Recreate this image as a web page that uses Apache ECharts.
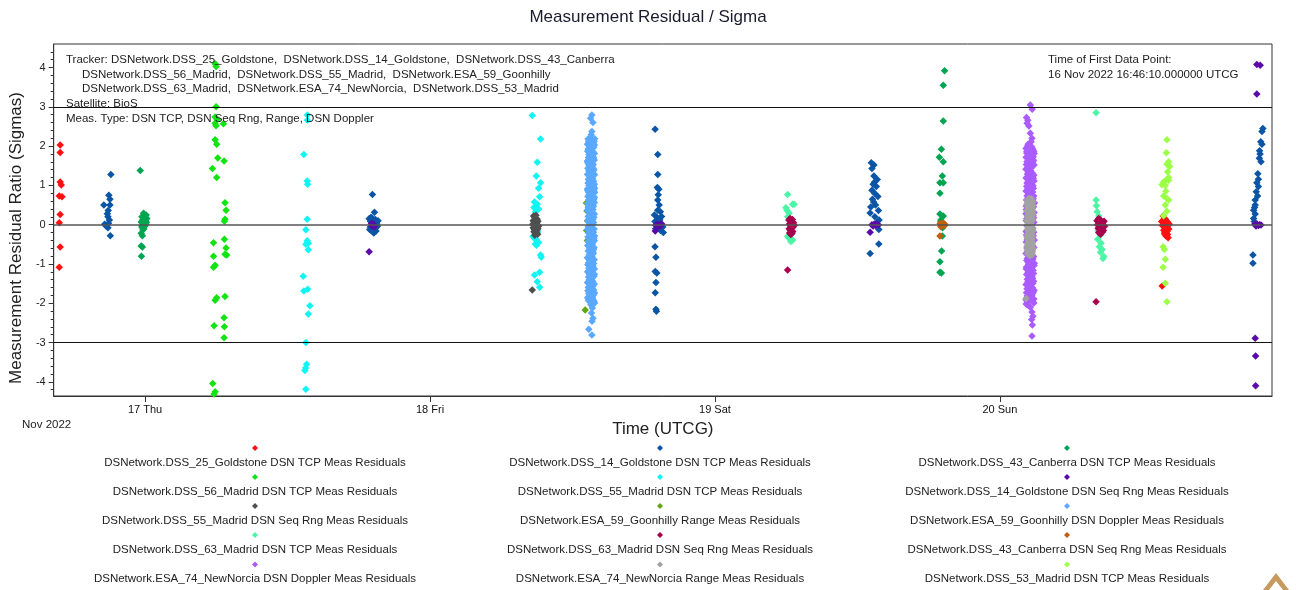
<!DOCTYPE html>
<html>
<head>
<meta charset="utf-8">
<title>Measurement Residual / Sigma</title>
<script src="https://cdn.jsdelivr.net/npm/echarts@6/dist/echarts.min.js"></script>
<style>
  html, body { margin: 0; padding: 0; background: #ffffff; }
  #chart { width: 1296px; height: 590px; }
</style>
</head>
<body>
<div id="chart"></div>
<script>
// Time of first data point; every row below is [hours since this epoch, residual/sigma, ...]
const T0 = Date.UTC(2022, 10, 16, 16, 46, 10);
const HOUR = 3600 * 1000;

const xMin = Date.UTC(2022, 10, 16, 16, 18, 0);
const xMax = Date.UTC(2022, 10, 20, 22, 55, 0);
const dayTicks = [Date.UTC(2022, 10, 17), Date.UTC(2022, 10, 18), Date.UTC(2022, 10, 19), Date.UTC(2022, 10, 20)];
const dayLabels = ['17 Thu', '18 Fri', '19 Sat', '20 Sun'];
const yMajorTicks = [-4, -3, -2, -1, 0, 1, 2, 3, 4];
const yMinorTicks = [-4.2, -3.8, -3.6, -3.4, -3.2, -2.8, -2.6, -2.4, -2.2, -1.8, -1.6, -1.4, -1.2,
  -0.8, -0.6, -0.4, -0.2, 0.2, 0.4, 0.6, 0.8, 1.2, 1.4, 1.6, 1.8, 2.2, 2.4, 2.6, 2.8,
  3.2, 3.4, 3.6, 3.8, 4.2, 4.4];
const sigmaLimits = [3, 0, -3];

const dss25Tcp = [
  [0.00, -1.08], [0.00, 0.05], [0.00, 0.73], [0.08, 2.03], [0.08, 1.84], [0.08, 1.09], [0.08, 0.26],
  [0.08, -0.57], [0.17, 1.01], [0.23, 0.71],
  [92.90, -1.56], [92.98, 0.22], [92.85, 0.08], [92.92, -0.02], [92.97, 0.11], [93.03, -0.14], [93.06, 0.03],
  [93.10, -0.21], [93.14, -0.08], [93.18, 0.14], [93.22, -0.29], [93.27, -0.05], [93.31, -0.17], [93.36, 0.06],
  [93.40, -0.33], [93.45, -0.11], [93.50, 0.01], [93.12, -0.24], [93.25, 0.09], [93.35, -0.25]
];
const dss14Tcp = [
  [4.35, 1.28], [4.18, 0.75], [4.27, 0.65], [3.76, 0.50], [4.27, 0.50], [4.12, 0.36], [4.10, 0.20], [4.22, 0.12],
  [3.82, 0.01], [3.95, -0.03], [4.10, -0.08], [4.30, -0.28], [4.05, 0.28], [4.15, 0.04],
  [26.38, 0.77], [26.55, 0.32], [26.10, 0.15], [26.22, 0.08], [26.30, -0.02], [26.42, 0.11], [26.48, -0.09],
  [26.60, 0.05], [26.68, -0.16], [26.75, 0.02], [26.20, -0.06], [26.35, 0.17], [26.50, -0.21], [26.62, 0.13],
  [26.80, -0.04], [26.15, -0.12], [26.45, 0.03], [26.70, 0.07], [26.28, -0.14], [26.58, -0.01], [26.85, 0.10],
  [26.40, -0.18], [26.25, 0.19], [26.65, -0.08],
  [50.19, 2.43], [50.41, 1.79], [50.41, 1.28], [50.38, 0.95], [50.50, 0.90], [50.45, 0.76], [50.41, 0.63],
  [50.53, 0.50], [50.41, 0.37], [50.63, 0.33], [50.13, 0.25], [50.73, 0.21], [50.41, 0.17], [50.58, 0.12],
  [50.18, 0.08], [50.33, 0.04], [50.68, 0.02], [50.48, -0.03], [50.83, -0.06], [50.23, -0.10], [50.63, -0.14],
  [50.88, -0.20], [50.18, -0.56], [50.26, -0.83], [50.20, -1.19], [50.33, -1.23], [50.26, -1.47], [50.20, -1.73],
  [50.26, -2.15], [50.30, -2.20],
  [68.40, 1.58], [68.62, 1.52], [68.45, 1.43], [68.62, 1.24], [68.68, 1.09], [68.55, 1.03], [68.82, 0.97],
  [68.68, 0.80], [68.95, 0.72], [68.50, 0.65], [68.75, 0.50], [68.35, 0.45], [69.00, 0.36], [68.30, 0.30],
  [68.70, 0.20], [69.05, 0.12], [68.85, 0.05], [68.55, -0.02], [69.03, -0.12], [69.03, -0.49], [68.30, -0.73],
  [68.45, 0.88], [68.90, 1.15], [68.60, 0.58],
  [101.38, 2.45], [101.30, 2.37], [101.20, 2.11], [101.30, 2.05], [101.14, 1.80], [101.08, 1.69], [101.22, 1.60],
  [101.00, 1.16], [100.87, 1.07], [101.00, 0.97], [100.82, 0.84], [100.93, 0.73], [100.73, 0.63], [100.73, 0.50],
  [100.60, 0.37], [100.73, 0.27], [100.60, 0.16], [100.65, 0.08], [100.54, -0.77], [100.54, -0.98], [101.10, 1.88],
  [100.95, 1.30], [100.68, 0.44]
];
const dss43Tcp = [
  [6.82, 1.38], [7.10, 0.29], [7.32, 0.25], [6.96, 0.20], [7.38, 0.16], [7.05, 0.13], [7.25, 0.10], [6.90, 0.07],
  [7.15, 0.04], [7.30, 0.01], [7.00, -0.02], [7.20, -0.04], [6.95, -0.06], [7.12, -0.10], [7.05, -0.13],
  [7.00, -0.28], [6.90, -0.22], [6.90, -0.54], [7.00, -0.57], [6.92, -0.80], [7.35, 0.06], [7.22, 0.18],
  [74.57, 3.92], [74.46, 3.55], [74.46, 2.64], [74.30, 1.92], [74.13, 1.72], [74.46, 1.60], [74.38, 1.24],
  [74.18, 1.07], [74.46, 1.07], [74.18, 0.80], [74.18, 0.27], [74.46, 0.22], [74.25, 0.08], [74.50, -0.04],
  [74.38, -0.29], [74.32, -0.67], [74.18, -0.94], [74.18, -1.21], [74.30, -1.23], [74.25, 0.12], [74.40, -0.08]
];
const dss56Tcp = [
  [13.13, 4.10], [13.21, 4.03], [13.21, 3.00], [13.13, 2.74], [13.30, 2.68], [13.13, 2.58], [13.83, 2.57],
  [13.21, 2.52], [13.13, 2.16], [13.26, 2.05], [13.35, 1.70], [12.90, 1.43], [13.88, 1.62], [13.26, 1.20],
  [13.96, 0.56], [14.05, 0.37], [13.96, 0.14], [13.91, 0.09], [13.91, -0.37], [12.99, -0.46], [14.05, -0.59],
  [13.96, -0.75], [14.10, -0.77], [12.99, -0.80], [13.13, -1.03], [12.99, -1.08], [13.96, -1.83], [13.26, -1.86],
  [13.13, -1.92], [13.04, -2.57], [13.88, -2.37], [13.91, -2.60], [13.88, -2.88], [12.93, -4.04], [13.13, -4.25],
  [13.04, -4.31]
];
const dss55Tcp = [
  [20.90, 2.79], [20.90, 2.66], [20.60, 1.79], [20.89, 1.11], [20.92, 1.03], [20.89, 0.14], [20.77, -0.13],
  [20.89, -0.41], [20.98, -0.47], [20.77, -0.50], [20.98, -0.64], [20.55, -1.31], [20.60, -1.69], [20.92, -1.64],
  [21.11, -2.06], [20.98, -2.27], [20.77, -3.00], [20.83, -3.55], [20.75, -3.65], [20.69, -3.71], [20.77, -4.19],
  [39.84, 2.78], [40.54, 2.18], [40.26, 1.59], [40.18, 1.24], [40.54, 1.07], [40.37, 0.93], [40.46, 0.71],
  [40.03, 0.58], [40.26, 0.52], [39.98, 0.44], [40.37, 0.40], [40.12, 0.33], [40.20, 0.15], [40.30, -0.18],
  [39.90, -0.30], [40.03, -0.35], [40.18, -0.38], [40.26, -0.42], [40.37, -0.45], [40.10, -0.49], [40.20, -0.52],
  [40.54, -0.77], [40.60, -0.83], [40.03, -1.28], [40.46, -1.21], [40.26, -1.45], [40.46, -1.59]
];
const dss14SeqRng = [
  [26.10, -0.69], [26.35, -0.03], [26.45, 0.02], [26.55, -0.05], [26.30, 0.03],
  [50.20, -0.16], [50.25, -0.02], [50.35, 0.01], [50.45, -0.04], [50.55, 0.00], [50.65, -0.03], [50.75, 0.02],
  [68.30, -0.19], [68.45, 0.00], [68.55, -0.03], [68.65, 0.02], [68.78, -0.02], [68.90, 0.01], [69.00, -0.01],
  [100.87, 4.08], [101.15, 4.06], [100.87, 3.33], [100.70, 0.02], [100.80, -0.03], [100.90, 0.01], [101.00, -0.02],
  [101.10, 0.00], [101.22, -0.01], [100.73, -2.89], [100.77, -3.34], [100.77, -4.10]
];
const dss55SeqRng = [
  [39.95, 0.22], [40.05, 0.18], [40.15, 0.24], [40.25, 0.14], [39.92, 0.10], [40.02, 0.07], [40.12, 0.11],
  [40.22, 0.05], [40.32, 0.09], [39.88, 0.01], [39.98, -0.02], [40.08, 0.02], [40.18, -0.04], [40.28, 0.00],
  [40.38, -0.03], [39.92, -0.08], [40.02, -0.12], [40.12, -0.07], [40.22, -0.14], [40.32, -0.10], [39.98, -0.18],
  [40.10, -0.22], [40.20, -0.19], [40.30, -0.24], [40.05, -0.27], [40.15, 0.16], [39.84, -1.66]
];
const esa59Range = [
  [44.30, -2.17], [44.45, 0.35], [44.50, 0.10], [44.42, -0.15], [44.48, -0.40], [44.40, 0.55]
];
const esa59Doppler = [
  [44.48, 1.62, -0.84, 0.37], [44.49, 2.05, -1.47, 0.91], [44.50, -0.12, 1.28, -1.86], [44.51, 0.54, -0.53, 1.87],
  [44.52, -1.02, 0.08, 1.44], [44.53, -1.68, 0.72, -0.31], [44.54, 2.18, -1.21, 1.06], [44.55, -0.67, 1.93, 0.21],
  [44.56, -1.59, 1.15, -0.05], [44.57, 0.83, -1.93, 1.71], [44.58, -0.42, 0.46, -1.33], [44.59, 2.11, -0.97, 0.63],
  [44.60, 1.37, -1.76, 0.14], [44.61, -0.22, 1.52, -1.11], [44.62, 0.99, 1.79], [44.63, 0.29, -1.41, 1.67],
  [44.64, -0.76, 2.14, 0.58], [44.65, -1.89, 1.01, -0.18], [44.66, 1.23, -1.27, 0.77], [44.67, -0.59, 1.96, -1.64],
  [44.68, 0.42, -0.91, 1.48], [44.69, 0.02, -1.07, 0.87], [44.70, -0.36, 1.83], [44.71, -1.53, 0.67, 1.41],
  [44.72, -0.27, 2.01, -1.16], [44.73, 0.33, -0.71, 1.12], [44.74, -1.81, 0.96, 0.11], [44.75, -0.47, 1.59, -1.38],
  [44.76, 1.74, -0.02, 0.49], [44.77, -1.97, 1.31, -0.88], [44.78, 2.21, 0.79], [44.79, 1.08, -0.63, 0.24],
  [44.80, -1.49, 1.91, -0.15], [44.81, 0.71, -1.23, 1.55], [44.82, -0.96, 0.41, -1.71], [44.83, 2.09, 0.05, -0.38],
  [44.84, 1.35, -1.09, 0.88], [44.85, -1.92, 1.69, -0.56], [44.86, 0.17, 1.19], [44.87, -0.81, 1.47, 0.61],
  [44.88, -1.36, 1.99, -0.09], [44.89, 0.94, -1.62, 0.31], [44.90, 1.76, -0.49, -1.18], [44.91, 1.17, 0.52, -1.84],
  [44.92, 2.16, -0.24, 0.84], [44.93, -0.69, 1.63, -1.44], [44.94, 0.13, 1.33], [44.95, 0.39, -1.05, 1.86],
  [44.96, -0.33, 0.74, -1.56], [44.97, 1.25, -0.74, 2.07], [44.98, 0.01, -1.29, 1.53], [44.99, -0.61, 0.97, -1.79],
  [45.00, 0.47, 1.71, -0.19], [45.01, -0.99, 1.11, -1.66], [45.02, 0.64, 1.97], [45.03, -1.31, 0.19, 1.39],
  [45.04, -0.58, 0.86, -1.94], [45.05, 1.64, -0.11, 2.12], [45.06, -0.89, 0.56, -1.51], [45.07, 1.03, 0.27, -0.41],
  [45.08, 1.81, -1.13, 0.69], [45.09, -1.74, 1.27, -0.29], [45.10, 2.19, 0.93],
  [44.515, 0.87, -1.19, 1.58], [44.595, -0.44, 0.36, -1.69], [44.675, 1.94, -0.07, 0.62], [44.755, -1.42, 1.16, -0.79],
  [44.835, 0.23, 1.77, -1.03], [44.915, -0.16, 0.95, -1.88], [44.995, 1.43, 0.06, -0.64], [45.075, 2.03, -1.26],
  [44.555, -0.52, 1.29, 0.44], [44.635, -1.62, 0.76, 1.89], [44.715, -0.94, 0.17, -1.35], [44.795, 1.51, -0.26, 0.99],
  [44.875, -1.77, 2.15, 0.31], [44.955, -0.71, 1.07, -1.14], [45.035, 0.58, 1.66, -0.35], [45.095, -1.99, 0.82],
  [44.86, 2.79], [44.75, 2.71], [44.95, 2.60], [44.86, 2.37], [44.80, 2.29], [44.78, -2.04], [44.90, -2.12],
  [44.83, -2.25], [44.95, -2.38], [44.87, -2.46], [44.60, -2.66], [44.86, -2.81]
];
const dss63Tcp = [
  [61.35, 0.77], [61.20, 0.43], [61.77, 0.52], [61.90, 0.52], [61.48, 0.29], [61.35, 0.20], [61.35, -0.30],
  [61.77, -0.39], [61.48, -0.35], [61.62, -0.43], [61.30, 0.36], [61.55, 0.10], [61.70, -0.22],
  [87.33, 2.85], [87.33, 0.63], [87.36, 0.48], [87.42, 0.33], [87.56, 0.22], [87.70, -0.26], [87.47, -0.37],
  [87.75, -0.47], [87.61, -0.56], [87.84, -0.63], [87.70, -0.70], [87.98, -0.81], [87.92, -0.86], [87.50, -0.15],
  [87.65, 0.08]
];
const dss63SeqRng = [
  [61.45, 0.12], [61.55, 0.16], [61.65, 0.08], [61.75, 0.13], [61.85, 0.05], [61.50, 0.02], [61.60, -0.03],
  [61.70, 0.01], [61.80, -0.06], [61.90, -0.02], [61.48, -0.10], [61.58, -0.14], [61.68, -0.09], [61.78, -0.17],
  [61.52, -0.21], [61.62, -0.25], [61.72, -0.22], [61.35, -1.15],
  [87.40, 0.10], [87.55, 0.16], [87.70, 0.12], [87.85, 0.06], [88.00, 0.09], [87.45, 0.00], [87.60, 0.03],
  [87.75, -0.02], [87.90, 0.01], [88.05, -0.04], [87.50, -0.09], [87.65, -0.12], [87.80, -0.07], [87.95, -0.15],
  [87.55, -0.20], [87.70, -0.24], [87.85, -0.19], [87.33, -1.96]
];
const dss43SeqRng = [
  [74.20, 0.03], [74.30, -0.02], [74.40, 0.01], [74.50, -0.03], [74.60, 0.00], [74.25, -0.05], [74.45, 0.04],
  [74.55, 0.02], [74.18, -0.29]
];
const esa74Doppler = [
  [81.42, 1.41, -0.73, 0.28], [81.43, 1.94, -1.52, 0.86], [81.44, -0.17, 1.19, -1.91], [81.45, 0.47, -0.44, 1.72],
  [81.46, -1.08, 0.11, 1.53], [81.47, -1.73, 0.63, -0.26], [81.48, -1.27, 0.98], [81.49, 1.86, -0.91],
  [81.50, -0.59, 1.82, 0.16], [81.51, -1.63, 1.06, -0.03], [81.52, 0.74, -1.97, 1.61], [81.53, -0.38, 0.53, -1.39],
  [81.54, 1.99, -0.86, 0.34], [81.55, 1.29, -1.81, 0.07], [81.56, -0.21, 1.46], [81.57, -1.14, 0.91],
  [81.58, 0.22, -1.46, 1.58], [81.59, -0.68, 1.97, 0.51], [81.60, -1.86, 0.94, -0.13], [81.61, 1.14, -1.22, 0.69],
  [81.62, -0.52, 1.89, -1.69], [81.63, 0.38, -0.97, 1.37], [81.64, -0.04, -1.01], [81.65, 0.81, -0.33],
  [81.66, -1.58, 0.59, 1.33], [81.67, -0.24, 1.91, -1.19], [81.68, 0.26, -0.78, 1.04], [81.69, -1.77, 0.89, 0.13],
  [81.70, -0.49, 1.49, -1.42], [81.71, 1.67, 0.01, 0.44], [81.72, -1.93, 1.24], [81.73, -0.83, 1.78],
  [81.74, 1.01, -0.66, 0.19], [81.75, -1.54, 1.79, -0.11], [81.76, 0.64, -1.26, 1.44], [81.77, -1.03, 0.36, -1.76],
  [81.78, 1.96, 0.04, -0.36], [81.79, 1.27, -1.12, 0.79], [81.80, -1.88, 1.63], [81.81, -0.57, 0.17],
  [81.82, -0.77, 1.38, 0.57], [81.83, -1.33, 1.93, -0.07], [81.84, 0.87, -1.66, 0.29], [81.85, 1.69, -0.46, -1.17],
  [81.86, 1.09, 0.48, -1.84], [81.87, 1.84, -0.27, 0.77], [81.88, -0.62, 1.56], [81.89, -1.47, 0.09],
  [81.90, 0.33, -1.06, 1.76], [81.91, -0.31, 0.71, -1.59], [81.92, 1.21, -0.71, 1.98], [81.93, 0.02, -1.31, 1.47],
  [81.94, -0.64, 0.92, -1.78], [81.95, 0.42, 1.66, -0.16], [81.96, -0.94, 1.08], [81.97, -1.61, 0.61],
  [81.98, -1.36, 0.14, 1.31], [81.99, -0.54, 0.83, -1.96], [82.00, 1.57, -0.09, 1.92], [82.01, -0.87, 0.52, -1.49],
  [82.02, 0.99, 0.24, -0.41], [82.03, 1.73, -1.16, 0.66], [82.04, -1.71, 1.18], [82.05, -0.28, 0.93],
  [82.06, 0.46, -1.24, 1.64], [82.07, -0.81, 0.18, -1.44], [82.08, 1.87, -0.19, 0.73], [82.09, -1.89, 1.26, -0.58],
  [82.10, 0.06, 1.52, -1.04], [82.11, 0.31, -1.67, 1.11], [82.12, -0.39, 1.81], [82.13, -0.98, 0.56],
  [81.455, -1.13, 0.39, 1.71], [81.545, -0.47, 1.22, -1.83], [81.635, 0.68, -0.22, 1.95], [81.725, -1.38, 0.97, -0.69],
  [81.815, 1.45, 0.12, -1.57], [81.905, 1.85, -0.93, 0.27], [81.995, -1.74, 1.61], [82.085, 0.54, -1.99],
  [81.79, 3.05], [81.95, 2.94], [81.47, 2.73], [81.58, 2.66], [81.52, 2.58], [81.67, 2.51], [81.79, 2.33],
  [81.93, 2.20], [81.86, 2.11], [81.60, 2.05], [81.53, -2.04], [81.79, -2.10], [81.93, -2.22], [82.01, -2.33],
  [81.90, -2.41], [81.96, -2.55], [81.93, -2.83], [81.45, -2.02]
];
const esa74Range = [
  [81.50, 0.52, -0.31, 0.08], [81.53, -0.66, 0.37, -0.12], [81.55, 0.63, -0.47, 0.21], [81.57, -0.74, 0.14, -0.24],
  [81.60, 0.44, -0.58, 0.02], [81.62, 0.29, -0.39, 0.57], [81.64, -0.07, -0.71, 0.33], [81.67, 0.67, -0.18, -0.53],
  [81.69, 0.11, 0.48, -0.43], [81.71, -0.77, 0.25, -0.03], [81.74, 0.59, -0.62, 0.17], [81.76, -0.27, 0.41, -0.79],
  [81.78, 0.05, -0.49, 0.65], [81.81, -0.14, 0.35, -0.68], [81.83, 0.54, -0.35, 0.19], [81.85, -0.56, 0.01, 0.46],
  [81.88, -0.21, 0.61, -0.73], [81.90, 0.27, -0.44, 0.09], [81.92, -0.64, 0.39, -0.09], [81.95, 0.56, -0.28, -0.51],
  [81.97, 0.13, -0.76, 0.31], [82.00, 0.49, -0.16, -0.60],
  [81.51, 0.34, -0.55, -0.02], [81.56, 0.12, 0.58, -0.36], [81.585, -0.61, 0.23, 0.47], [81.63, -0.26, 0.62, -0.48],
  [81.655, 0.39, -0.09, -0.75], [81.70, 0.55, -0.33, 0.03], [81.725, -0.52, 0.19, 0.64], [81.75, -0.12, -0.69, 0.28],
  [81.795, 0.44, -0.41, 0.15], [81.82, -0.78, 0.61, -0.19], [81.84, 0.24, -0.63, 0.38], [81.865, -0.29, 0.52, -0.45],
  [81.89, 0.66, -0.05, -0.57], [81.935, -0.37, 0.18, 0.43], [81.96, 0.35, -0.67, -0.11], [81.985, -0.46, 0.26, 0.59],
  [81.43, -1.88]
];
const dss53Tcp = [
  [93.30, 2.16], [93.25, 1.83], [93.44, 1.60], [93.30, 1.54], [93.53, 1.48], [93.44, 1.20], [93.30, 1.16],
  [93.02, 1.09], [92.88, 1.02], [93.16, 1.00], [93.44, 1.13], [93.02, 0.73], [93.30, 0.67], [93.44, 0.63],
  [93.16, 0.50], [93.30, 0.34], [93.02, 0.23], [92.97, -0.56], [93.08, -0.63], [93.16, -0.88], [92.97, -1.08],
  [93.16, -1.49], [93.30, -1.96], [93.20, 0.85], [93.35, 1.35]
];

const seriesNames = [
  'DSNetwork.DSS_25_Goldstone DSN TCP Meas Residuals',
  'DSNetwork.DSS_14_Goldstone DSN TCP Meas Residuals',
  'DSNetwork.DSS_43_Canberra DSN TCP Meas Residuals',
  'DSNetwork.DSS_56_Madrid DSN TCP Meas Residuals',
  'DSNetwork.DSS_55_Madrid DSN TCP Meas Residuals',
  'DSNetwork.DSS_14_Goldstone DSN Seq Rng Meas Residuals',
  'DSNetwork.DSS_55_Madrid DSN Seq Rng Meas Residuals',
  'DSNetwork.ESA_59_Goonhilly Range Meas Residuals',
  'DSNetwork.ESA_59_Goonhilly DSN Doppler Meas Residuals',
  'DSNetwork.DSS_63_Madrid DSN TCP Meas Residuals',
  'DSNetwork.DSS_63_Madrid DSN Seq Rng Meas Residuals',
  'DSNetwork.DSS_43_Canberra DSN Seq Rng Meas Residuals',
  'DSNetwork.ESA_74_NewNorcia DSN Doppler Meas Residuals',
  'DSNetwork.ESA_74_NewNorcia Range Meas Residuals',
  'DSNetwork.DSS_53_Madrid DSN TCP Meas Residuals'
];
const seriesColors = [
  '#ff1010', '#0a55a5', '#00a552', '#12e412', '#10f4f4',
  '#5a0aa8', '#4f4f4f', '#62a614', '#5aa8ff', '#4cf5a6',
  '#a8004e', '#c0600e', '#aa5cff', '#a2a2a2', '#9cff48'
];
const seriesRows = [
  dss25Tcp, dss14Tcp, dss43Tcp, dss56Tcp, dss55Tcp,
  dss14SeqRng, dss55SeqRng, esa59Range, esa59Doppler, dss63Tcp,
  dss63SeqRng, dss43SeqRng, esa74Doppler, esa74Range, dss53Tcp
];

const trackerLines = [
  'Tracker: DSNetwork.DSS_25_Goldstone,  DSNetwork.DSS_14_Goldstone,  DSNetwork.DSS_43_Canberra',
  'DSNetwork.DSS_56_Madrid,  DSNetwork.DSS_55_Madrid,  DSNetwork.ESA_59_Goonhilly',
  'DSNetwork.DSS_63_Madrid,  DSNetwork.ESA_74_NewNorcia,  DSNetwork.DSS_53_Madrid',
  'Satellite: BioS',
  'Meas. Type: DSN TCP, DSN Seq Rng, Range, DSN Doppler'
];
const firstPointLines = ['Time of First Data Point:', '16 Nov 2022 16:46:10.000000 UTCG'];

const FONT = '"Liberation Sans", Arial, sans-serif';
const SMALL = '11.5px ' + FONT;

// rows -> [epoch ms, sigma] points for a numeric time axis
function toPoints(rows) {
  const out = [];
  rows.forEach(r => {
    for (let i = 1; i < r.length; i++) out.push([T0 + r[0] * HOUR, r[i]]);
  });
  return out;
}

const chart = echarts.init(document.getElementById('chart'), null, { renderer: 'canvas' });

const series = [{
  type: 'scatter',
  name: 'limits',
  data: [],
  z: 1,
  silent: true,
  markLine: {
    silent: true,
    symbol: 'none',
    animation: false,
    label: { show: false },
    data: sigmaLimits.map(v => ({
      yAxis: v,
      lineStyle: v === 0 ? { color: '#555', width: 1.6, type: 'solid' } : { color: '#111', width: 1.1, type: 'solid' }
    }))
  }
}];
seriesRows.forEach((rows, i) => {
  series.push({
    type: 'scatter',
    name: seriesNames[i],
    data: toPoints(rows),
    symbol: 'diamond',
    symbolSize: 7.5,
    z: 3,
    itemStyle: { color: seriesColors[i], opacity: 1 }
  });
});

// legend: a diamond above each centred entry, three columns by five rows
const legendCols = [255, 660, 1067];
const legendRowY = [448, 477, 506, 535, 564.5];
const graphics = [];
seriesNames.forEach((name, i) => {
  const cx = legendCols[i % 3];
  const my = legendRowY[Math.floor(i / 3)];
  graphics.push({
    type: 'polygon',
    shape: { points: [[cx, my - 3], [cx + 3, my], [cx, my + 3], [cx - 3, my]] },
    style: { fill: seriesColors[i] },
    silent: true
  });
  graphics.push({
    type: 'text',
    style: { text: name, x: cx, y: my + 14.5, fill: '#222', font: SMALL, textAlign: 'center', textVerticalAlign: 'middle' },
    silent: true
  });
});
const annX = [66, 82, 82, 66, 66];
const annY = [60, 74.5, 89, 104, 118.5];
trackerLines.forEach((t, i) => {
  graphics.push({
    type: 'text', z: 10,
    style: { text: t, x: annX[i], y: annY[i], fill: '#222', font: SMALL, textAlign: 'left', textVerticalAlign: 'middle' },
    silent: true
  });
});
firstPointLines.forEach((t, i) => {
  graphics.push({
    type: 'text', z: 10,
    style: { text: t, x: 1048, y: 60 + i * 14.5, fill: '#222', font: SMALL, textAlign: 'left', textVerticalAlign: 'middle' },
    silent: true
  });
});
graphics.push({
  type: 'text',
  style: { text: 'Nov 2022', x: 22, y: 425, fill: '#222', font: SMALL, textAlign: 'left', textVerticalAlign: 'middle' },
  silent: true
});
graphics.push({
  type: 'polygon',
  shape: { points: [[1263, 590], [1276, 573], [1289, 590], [1283, 590], [1276, 581], [1269, 590]] },
  style: { fill: '#c79a5e' },
  silent: true
});

chart.setOption({
  animation: false,
  backgroundColor: '#ffffff',
  textStyle: { fontFamily: FONT },
  title: {
    text: 'Measurement Residual / Sigma',
    left: 'center',
    top: 4,
    textStyle: { fontSize: 17, fontWeight: 'normal', color: '#1b1b30', fontFamily: FONT }
  },
  grid: {
    left: 52, right: 24, top: 44, bottom: 194,
    show: true, borderColor: '#333', borderWidth: 1, backgroundColor: 'transparent'
  },
  xAxis: {
    type: 'value',
    min: xMin,
    max: xMax,
    axisLine: { show: true, onZero: false, lineStyle: { color: '#333' } },
    axisTick: { show: true, customValues: dayTicks, length: 6, lineStyle: { color: '#333' } },
    axisLabel: {
      customValues: dayTicks,
      formatter: v => dayLabels[dayTicks.indexOf(v)],
      fontSize: 11, color: '#111', margin: 8, fontFamily: FONT
    },
    splitLine: { show: false },
    name: 'Time (UTCG)',
    nameLocation: 'middle',
    nameGap: 25,
    nameTextStyle: { fontSize: 17, color: '#222', fontFamily: FONT }
  },
  yAxis: [{
    type: 'value',
    min: -4.36,
    max: 4.6,
    position: 'left',
    axisLine: { show: true, onZero: false, lineStyle: { color: '#333' } },
    axisTick: { show: true, customValues: yMajorTicks, length: 5, lineStyle: { color: '#333' } },
    axisLabel: { customValues: yMajorTicks, fontSize: 11, color: '#222', margin: 8, fontFamily: FONT },
    splitLine: { show: false },
    name: 'Measurement Residual Ratio (Sigmas)',
    nameLocation: 'middle',
    nameGap: 27,
    nameTextStyle: { fontSize: 17, color: '#222', fontFamily: FONT, padding: [0, 36, 0, 0] }
  }, {
    type: 'value',
    min: -4.36,
    max: 4.6,
    position: 'left',
    axisLine: { show: false, onZero: false },
    axisTick: { show: true, customValues: yMinorTicks, length: 3, lineStyle: { color: '#333' } },
    axisLabel: { show: false },
    splitLine: { show: false }
  }],
  series: series,
  graphic: graphics
});
</script>
</body>
</html>
